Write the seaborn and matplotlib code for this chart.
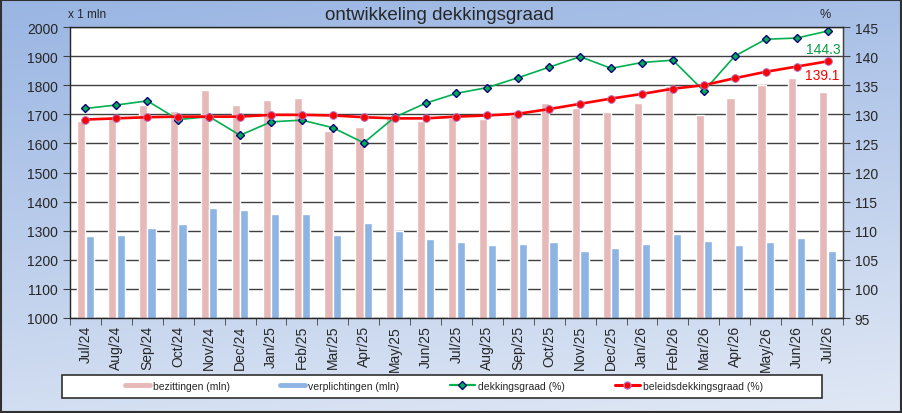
"""
Recreation of the 'ontwikkeling dekkingsgraad' chart: bars for assets/liabilities,
lines for funding ratio on a secondary axis.
"""
import numpy as np
import pandas as pd
import seaborn as sns
import matplotlib.pyplot as plt
from matplotlib.lines import Line2D
from matplotlib.patches import Rectangle

months = ["Jul/24", "Aug/24", "Sep/24", "Oct/24", "Nov/24", "Dec/24", "Jan/25",
          "Feb/25", "Mar/25", "Apr/25", "May/25", "Jun/25", "Jul/25", "Aug/25",
          "Sep/25", "Oct/25", "Nov/25", "Dec/25", "Jan/26", "Feb/26", "Mar/26",
          "Apr/26", "May/26", "Jun/26", "Jul/26"]

bezittingen = [1677, 1690, 1732, 1710, 1783, 1732, 1748, 1755, 1641, 1657, 1690, 1677,
               1688, 1685, 1699, 1739, 1722, 1708, 1739, 1796, 1698, 1755, 1801, 1825, 1777]
verplichtingen = [1281, 1284, 1310, 1324, 1377, 1370, 1356, 1358, 1284, 1326, 1300, 1271,
                  1260, 1251, 1255, 1260, 1230, 1239, 1253, 1289, 1265, 1251, 1260, 1274, 1230]
dekkingsgraad = [131.0, 131.6, 132.3, 129.1, 129.6, 126.4, 128.7, 129.0, 127.7, 125.1, 129.5, 131.9,
                 133.6, 134.6, 136.3, 138.1, 139.9, 137.9, 138.9, 139.3, 134.0, 140.0, 142.9, 143.1, 144.3]
beleidsdekkingsgraad = [129.1, 129.3, 129.5, 129.6, 129.6, 129.6, 129.9, 129.9, 129.8, 129.5, 129.3, 129.3,
                        129.6, 129.8, 130.1, 130.9, 131.8, 132.7, 133.5, 134.4, 135.0, 136.2, 137.3, 138.2, 139.1]

PINK = "#E6B9B8"
BLUE = "#8DB4E2"
GREEN = "#00B050"
RED = "#FF0000"
GRID = "#404040"

sns.set_style("white")
plt.rcParams["font.family"] = ["Liberation Sans", "DejaVu Sans"]

fig = plt.figure(figsize=(9.03, 4.14), dpi=100)

# gradient background
bg = fig.add_axes([0, 0, 1, 1], zorder=-10)
yy = np.linspace(0, 1, 200)[:, None]
xx = np.linspace(0, 1, 300)[None, :]
t = np.clip(0.8 * yy + 0.2 * xx, 0, 1)
top = np.array([0.60, 0.71, 0.89])
bot = np.array([0.88, 0.91, 0.96])
grad = top[None, None, :] * (1 - t[..., None]) + bot[None, None, :] * t[..., None]
bg.imshow(grad, aspect="auto", extent=[0, 1, 0, 1], origin="upper")
bg.set_axis_off()
fig.patches.append(Rectangle((0.001, 0.002), 0.997, 0.995, transform=fig.transFigure,
                             fill=False, edgecolor="#303030", linewidth=1.5))

ax = fig.add_axes([70 / 903, 95 / 414, 773 / 903, 291 / 414])
ax.set_facecolor("white")

bars = pd.DataFrame({
    "maand": months * 2,
    "waarde": bezittingen + verplichtingen,
    "reeks": ["bezittingen (mln)"] * len(months) + ["verplichtingen (mln)"] * len(months),
})
sns.barplot(data=bars, x="maand", y="waarde", hue="reeks", palette=[PINK, BLUE],
            width=0.55, gap=0.04, ax=ax, legend=False, saturation=1)

ax.set_ylim(1000, 2000)
ax.set_xlim(-0.5, len(months) - 0.5)
ax.set_yticks(range(1000, 2001, 100))
ax.yaxis.grid(True, color=GRID, linewidth=1)
ax.set_axisbelow(True)
ax.set_xlabel("")
ax.set_ylabel("")
ax.tick_params(axis="y", labelsize=10, length=5, color=GRID, direction="out", left=True)
ax.tick_params(axis="x", which="major", labelsize=10, length=0, pad=5, labelrotation=90)
ax.set_xticks(np.arange(len(months) + 1) - 0.5, minor=True)
ax.tick_params(axis="x", which="minor", length=5, color=GRID, direction="out", bottom=True)
for side in ["left", "bottom", "right", "top"]:
    ax.spines[side].set_color(GRID)
    ax.spines[side].set_linewidth(1)

ax2 = ax.twinx()
ax2.patch.set_visible(False)
x = np.arange(len(months))
sns.lineplot(x=x, y=dekkingsgraad, ax=ax2, color=GREEN, linewidth=1.2, marker="D",
             markersize=4.5, markerfacecolor=GREEN, markeredgecolor="#000080",
             markeredgewidth=1.0)
sns.lineplot(x=x, y=beleidsdekkingsgraad, ax=ax2, color=RED, linewidth=1.9, marker="o",
             markersize=5.5, markerfacecolor=RED, markeredgecolor="#B070C0",
             markeredgewidth=0.7)
ax2.set_ylim(95, 145)
ax2.set_yticks(range(95, 146, 5))
ax2.tick_params(axis="y", labelsize=10, length=5, color=GRID, direction="out", right=True)
ax2.spines["right"].set_color(GRID)
ax2.grid(False)
ax2.set_xlim(-0.5, len(months) - 0.5)

ax2.annotate(f"{dekkingsgraad[-1]:.1f}", xy=(x[-1], dekkingsgraad[-1]), xytext=(-3, -13),
             textcoords="offset points", ha="center", va="center", color="#00A040", fontsize=10)
ax2.annotate(f"{beleidsdekkingsgraad[-1]:.1f}", xy=(x[-1], beleidsdekkingsgraad[-1]), xytext=(-4, -10),
             textcoords="offset points", ha="center", va="center", color=RED, fontsize=10)

fig.text(0.487, 0.962, "ontwikkeling dekkingsgraad", ha="center", va="center", fontsize=13.5)
fig.text(68 / 903, 1 - 15 / 414, "x 1 mln", ha="left", va="center", fontsize=8.5)
fig.text(825 / 903, 1 - 15 / 414, "%", ha="center", va="center", fontsize=9)

# legend box
fig.patches.append(Rectangle((62 / 903, 15 / 414), 760 / 903, 23 / 414, transform=fig.transFigure,
                             facecolor="white", edgecolor="#303030", linewidth=1.2))
handles = [
    Line2D([], [], color=PINK, linewidth=3.5),
    Line2D([], [], color=BLUE, linewidth=3.5),
    Line2D([], [], color=GREEN, linewidth=1.6, marker="D", markersize=4,
           markerfacecolor=GREEN, markeredgecolor="#000080"),
    Line2D([], [], color=RED, linewidth=2.2, marker="o", markersize=5,
           markerfacecolor=RED, markeredgecolor="#B070C0"),
]
labels = ["bezittingen (mln)", "verplichtingen (mln)", "dekkingsgraad (%)", "beleidsdekkingsgraad (%)"]
fig.legend(handles, labels, loc="center", bbox_to_anchor=(444 / 903, 27 / 414), ncol=4,
           frameon=False, fontsize=7.5, handlelength=2.4, handletextpad=0.3, columnspacing=4.8)

fig.savefig("out.png", dpi=100)
